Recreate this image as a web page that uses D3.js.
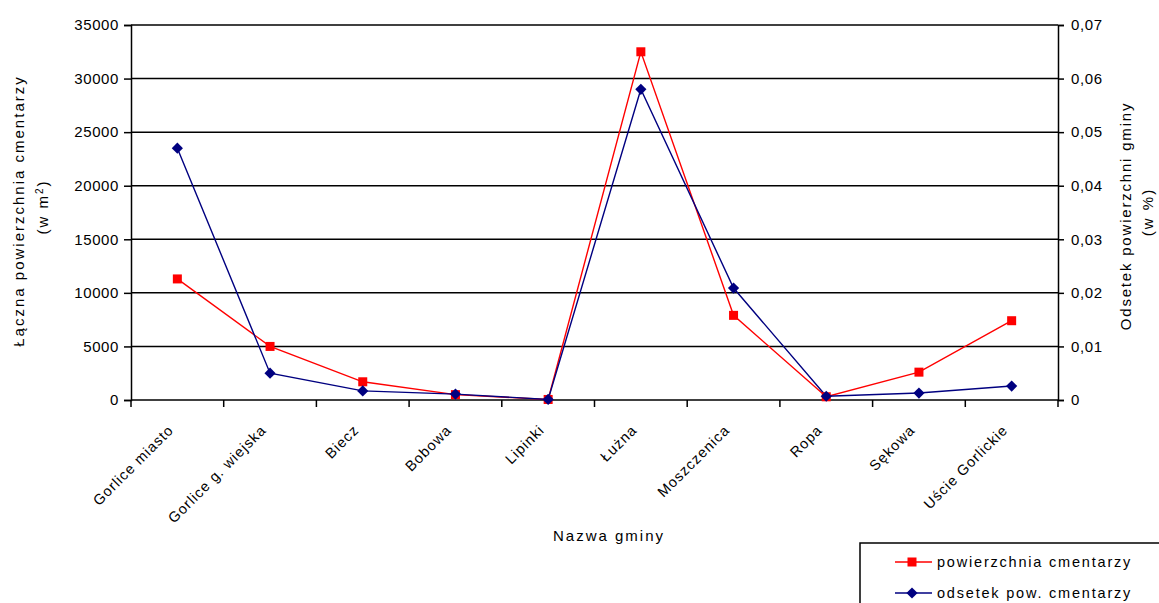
<!DOCTYPE html>
<html>
<head>
<meta charset="utf-8">
<script src="https://cdn.jsdelivr.net/npm/d3@7"></script>
<style>
  body { margin: 0; background: #fff; }
  text { font-family: "Liberation Sans", Arial, sans-serif; fill: #000; }
</style>
</head>
<body>
<script>
// data
var gminy = ["Gorlice miasto", "Gorlice g. wiejska", "Biecz", "Bobowa", "Lipinki",
             "Łużna", "Moszczenica", "Ropa", "Sękowa", "Uście Gorlickie"];
var powierzchnia = [11300, 5000, 1700, 500, 50, 32500, 7900, 300, 2600, 7400];
var odsetek = [0.047, 0.005, 0.0017, 0.0011, 0.0001, 0.058, 0.0209, 0.0007, 0.0013, 0.0026];
var leftTicks = [0, 5000, 10000, 15000, 20000, 25000, 30000, 35000];
var rightTicks = [0, 0.01, 0.02, 0.03, 0.04, 0.05, 0.06, 0.07];

var w = 1159, h = 603;
var plotL = 131, plotR = 1058, plotT = 25, plotB = 400;

var svg = d3.select("body").append("svg")
    .attr("width", w)
    .attr("height", h);

var x = d3.scaleBand().domain(gminy).range([plotL, plotR]);
var yL = d3.scaleLinear().domain([0, 35000]).range([plotB, plotT]);
var yR = d3.scaleLinear().domain([0, 0.07]).range([plotB, plotT]);

// gridlines
svg.append("g")
    .selectAll("line")
    .data(leftTicks.slice(1))
    .enter().append("line")
    .attr("x1", plotL).attr("x2", plotR)
    .attr("y1", function(d) { return yL(d); })
    .attr("y2", function(d) { return yL(d); })
    .attr("stroke", "#000")
    .attr("stroke-width", 1.5);

// left axis
var gL = svg.append("g")
    .attr("transform", "translate(" + plotL + ",0)")
    .call(d3.axisLeft(yL).tickValues(leftTicks).tickSize(7).tickPadding(5).tickFormat(d3.format("d")));

// right axis
var gR = svg.append("g")
    .attr("transform", "translate(" + plotR + ",0)")
    .call(d3.axisRight(yR).tickValues(rightTicks).tickSize(6).tickPadding(7)
        .tickFormat(function(d) { return d === 0 ? "0" : d3.format(".2f")(d).replace(".", ","); }));

// bottom axis, ticks between categories
var bounds = gminy.map(function(d) { return x(d); }).concat([plotR]);
var gB = svg.append("g")
    .attr("transform", "translate(0," + plotB + ")");
gB.append("line")
    .attr("x1", plotL).attr("x2", plotR)
    .attr("stroke", "#000").attr("stroke-width", 1.5);
gB.selectAll("line.tick")
    .data(bounds)
    .enter().append("line")
    .attr("class", "tick")
    .attr("x1", function(d) { return d; })
    .attr("x2", function(d) { return d; })
    .attr("y1", 0).attr("y2", 7)
    .attr("stroke", "#000").attr("stroke-width", 1.5);
gB.selectAll("text")
    .data(gminy)
    .enter().append("text")
    .attr("text-anchor", "end")
    .attr("font-size", 14.5)
    .attr("letter-spacing", 1)
    .attr("transform", function(d) {
        return "translate(" + (x(d) + x.bandwidth() / 2 - 3) + ",31) rotate(-45)";
    })
    .text(function(d) { return d; });

[gL, gR].forEach(function(g) {
    g.select(".domain").attr("stroke", "#000").attr("stroke-width", 1.5);
    g.selectAll(".tick line").attr("stroke", "#000").attr("stroke-width", 1.5);
    g.selectAll(".tick text").attr("font-size", 15).attr("fill", "#000")
        .attr("letter-spacing", 0.6)
        .attr("font-family", "Liberation Sans, Arial, sans-serif");
});

// lines
var cx = function(d, i) { return x(gminy[i]) + x.bandwidth() / 2; };

svg.append("path")
    .datum(powierzchnia)
    .attr("fill", "none")
    .attr("stroke", "#ff0000")
    .attr("stroke-width", 1.4)
    .attr("d", d3.line().x(cx).y(function(d) { return yL(d); }));

svg.append("path")
    .datum(odsetek)
    .attr("fill", "none")
    .attr("stroke", "#000080")
    .attr("stroke-width", 1.4)
    .attr("d", d3.line().x(cx).y(function(d) { return yR(d); }));

svg.selectAll("rect.red")
    .data(powierzchnia)
    .enter().append("rect")
    .attr("class", "red")
    .attr("x", function(d, i) { return cx(d, i) - 4.5; })
    .attr("y", function(d) { return yL(d) - 4.5; })
    .attr("width", 9).attr("height", 9)
    .attr("fill", "#ff0000");

var diamond = d3.symbol().type(d3.symbolDiamond2).size(80);
svg.selectAll("path.blue")
    .data(odsetek)
    .enter().append("path")
    .attr("class", "blue")
    .attr("d", diamond)
    .attr("transform", function(d, i) { return "translate(" + cx(d, i) + "," + yR(d) + ")"; })
    .attr("fill", "#000080");

// axis titles
svg.append("text")
    .attr("transform", "translate(24,211) rotate(-90)")
    .attr("text-anchor", "middle")
    .attr("font-size", 15)
    .attr("letter-spacing", 2)
    .text("Łączna powierzchnia cmentarzy");
var t2 = svg.append("text")
    .attr("transform", "translate(48,207) rotate(-90)")
    .attr("text-anchor", "middle")
    .attr("font-size", 15)
    .attr("letter-spacing", 2);
t2.append("tspan").text("(w m");
t2.append("tspan").attr("baseline-shift", "super").attr("font-size", 10).text("2");
t2.append("tspan").text(")");

svg.append("text")
    .attr("transform", "translate(1131,216) rotate(-90)")
    .attr("text-anchor", "middle")
    .attr("font-size", 15)
    .attr("letter-spacing", 1.8)
    .text("Odsetek powierzchni gminy");
svg.append("text")
    .attr("transform", "translate(1153,212) rotate(-90)")
    .attr("text-anchor", "middle")
    .attr("font-size", 15)
    .attr("letter-spacing", 2)
    .text("(w %)");

svg.append("text")
    .attr("x", 609).attr("y", 541)
    .attr("text-anchor", "middle")
    .attr("font-size", 15)
    .attr("letter-spacing", 2)
    .text("Nazwa gminy");

// legend
var lg = svg.append("g").attr("transform", "translate(860,543)");
lg.append("rect")
    .attr("width", 320).attr("height", 80)
    .attr("fill", "#fff").attr("stroke", "#000").attr("stroke-width", 1.5);
var items = [
    { name: "powierzchnia cmentarzy", color: "#ff0000", sym: "square" },
    { name: "odsetek pow. cmentarzy", color: "#000080", sym: "diamond" }
];
items.forEach(function(it, i) {
    var yy = 19 + i * 31;
    lg.append("line")
        .attr("x1", 35).attr("x2", 72).attr("y1", yy).attr("y2", yy)
        .attr("stroke", it.color).attr("stroke-width", 1.4);
    if (it.sym === "square") {
        lg.append("rect").attr("x", 47.5).attr("y", yy - 4.5).attr("width", 9).attr("height", 9)
            .attr("fill", it.color);
    } else {
        lg.append("path").attr("d", diamond)
            .attr("transform", "translate(52," + yy + ")").attr("fill", it.color);
    }
    lg.append("text")
        .attr("x", 77).attr("y", yy + 5)
        .attr("font-size", 14.5)
        .attr("letter-spacing", 1.8)
        .text(it.name);
});
</script>
</body>
</html>
